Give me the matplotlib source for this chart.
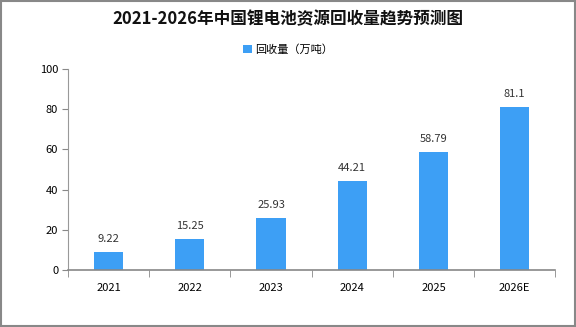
import matplotlib
matplotlib.use('Agg')
import matplotlib.pyplot as plt
from matplotlib.patches import Rectangle

plt.rcParams['font.family'] = ['Noto Sans CJK SC', 'DejaVu Sans']

years = ['2021', '2022', '2023', '2024', '2025', '2026E']
recycling = [9.22, 15.25, 25.93, 44.21, 58.79, 81.1]
labels = ['9.22', '15.25', '25.93', '44.21', '58.79', '81.1']

fig = plt.figure(figsize=(5.76, 3.27), dpi=100)
ax = fig.add_axes([0.118, 0.174, 0.846, 0.615])

x = range(len(years))
bars = ax.bar(x, recycling, width=0.36, color='#3d9ff5', label='回收量（万吨）', zorder=2)
for xi, v, t in zip(x, recycling, labels):
    ax.text(xi, v + 4, t, ha='center', va='bottom', fontsize=8, color='#333333')

ax.set_ylim(0, 100)
ax.set_xlim(-0.5, len(years) - 0.5)
ax.set_yticks(range(0, 101, 20))
ax.set_xticks(x)
ax.set_xticklabels(years)
ax.set_xticks([i - 0.5 for i in range(len(years) + 1)], minor=True)
ax.tick_params(axis='x', which='major', length=0, pad=9, labelsize=8)
ax.tick_params(axis='x', which='minor', length=5, color='#888888')
ax.tick_params(axis='y', length=4, color='#888888', labelsize=8, pad=3)
for s in ['top', 'right']:
    ax.spines[s].set_visible(False)
ax.spines['left'].set_color('#999999')
ax.spines['bottom'].set_color('#888888')
ax.spines['bottom'].set_linewidth(1.2)

fig.text(0.5, 0.94, '2021-2026年中国锂电池资源回收量趋势预测图', ha='center', va='center',
         fontsize=12, fontweight='bold', color='#111111')
fig.legend(loc='center', bbox_to_anchor=(0.5, 0.848), frameon=False, fontsize=8,
           handlelength=0.8, handleheight=0.8, handletextpad=0.3)

fig.patches.append(Rectangle((0.002, 0.004), 0.996, 0.992, transform=fig.transFigure,
                             fill=False, edgecolor='#888888', linewidth=1.5))

fig.savefig('out.png', dpi=100)
